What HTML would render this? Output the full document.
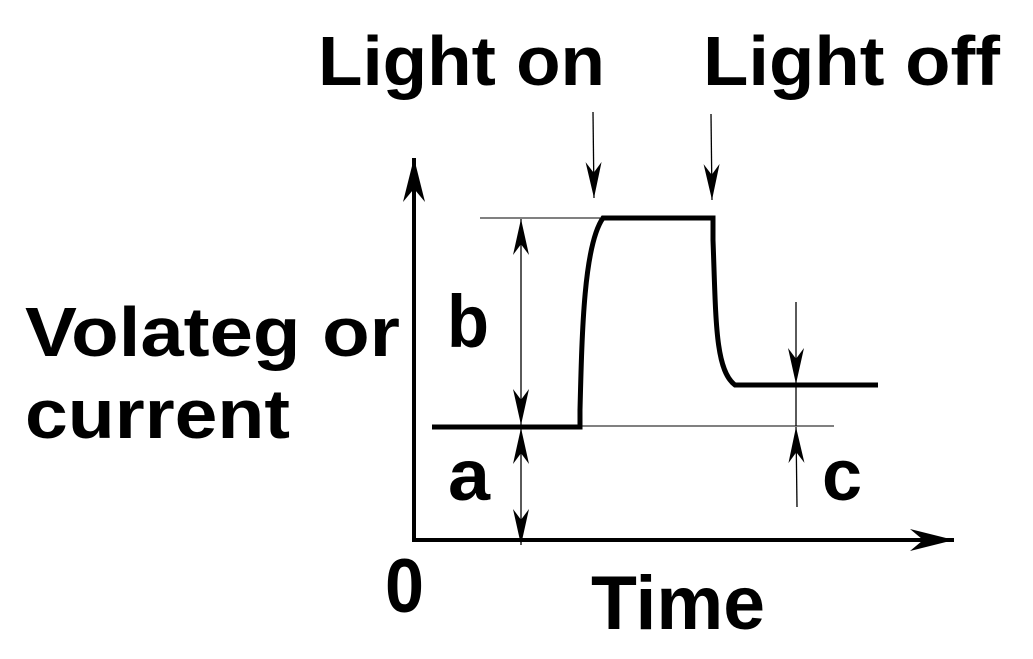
<!DOCTYPE html>
<html><head><style>body{margin:0;background:#fff}svg{display:block}text{font-family:"Liberation Sans",sans-serif;font-weight:bold;fill:#000}</style></head>
<body>
<svg width="1033" height="659" viewBox="0 0 1033 659" xmlns="http://www.w3.org/2000/svg">
<defs>
<marker id="hs" viewBox="0 0 10 10" refX="10" refY="5" markerWidth="36" markerHeight="16" markerUnits="userSpaceOnUse" orient="auto" preserveAspectRatio="none"><path d="M0,0 L10,5 L0,10 L3,5 Z" fill="#000"/></marker>
<marker id="hb" viewBox="0 0 10 10" refX="10" refY="5" markerWidth="44" markerHeight="22" markerUnits="userSpaceOnUse" orient="auto" preserveAspectRatio="none"><path d="M0,0 L10,5 L0,10 L3,5 Z" fill="#000"/></marker>
</defs>
<text x="318" y="85" font-size="70" textLength="287" lengthAdjust="spacingAndGlyphs">Light on</text>
<text x="703" y="85" font-size="70" textLength="297" lengthAdjust="spacingAndGlyphs">Light off</text>
<text x="25" y="356" font-size="70" textLength="375" lengthAdjust="spacingAndGlyphs">Volateg or</text>
<text x="25" y="438" font-size="70" textLength="265" lengthAdjust="spacingAndGlyphs">current</text>
<text x="447" y="347" font-size="74" textLength="42" lengthAdjust="spacingAndGlyphs">b</text>
<text x="448" y="500" font-size="72" textLength="42" lengthAdjust="spacingAndGlyphs">a</text>
<text x="822" y="500" font-size="72" textLength="40" lengthAdjust="spacingAndGlyphs">c</text>
<text x="385" y="612" font-size="76" textLength="39" lengthAdjust="spacingAndGlyphs">0</text>
<text x="591" y="629" font-size="76" textLength="174" lengthAdjust="spacingAndGlyphs">Time</text>
<line x1="414" y1="540" x2="414" y2="158" stroke="#000" stroke-width="4" marker-end="url(#hb)"/>
<line x1="412" y1="540" x2="954" y2="540" stroke="#000" stroke-width="4" marker-end="url(#hb)"/>
<line x1="480" y1="218" x2="600" y2="218" stroke="#000" stroke-width="1"/>
<line x1="580" y1="426" x2="834" y2="426" stroke="#000" stroke-width="1"/>
<path d="M432,427 L580,427 L580,410 C582,330 584,245 603,218 L713,218 L713,240 C716,320 715,370 735,385 L878,385" fill="none" stroke="#000" stroke-width="5"/>
<line x1="593" y1="112" x2="594" y2="198" stroke="#000" stroke-width="1.3" marker-end="url(#hs)"/>
<line x1="711" y1="114" x2="712" y2="200" stroke="#000" stroke-width="1.3" marker-end="url(#hs)"/>
<line x1="521" y1="322" x2="521" y2="219" stroke="#000" stroke-width="1.3" marker-end="url(#hs)"/>
<line x1="521" y1="322" x2="521" y2="425" stroke="#000" stroke-width="1.3" marker-end="url(#hs)"/>
<line x1="521" y1="483" x2="521" y2="428" stroke="#000" stroke-width="1.3" marker-end="url(#hs)"/>
<line x1="521" y1="483" x2="521" y2="545" stroke="#000" stroke-width="1.3" marker-end="url(#hs)"/>
<line x1="796" y1="302" x2="796" y2="384" stroke="#000" stroke-width="1.3" marker-end="url(#hs)"/>
<line x1="796" y1="384" x2="796" y2="426" stroke="#000" stroke-width="1.3"/>
<line x1="797" y1="507" x2="796" y2="427" stroke="#000" stroke-width="1.3" marker-end="url(#hs)"/>
</svg>
</body></html>
